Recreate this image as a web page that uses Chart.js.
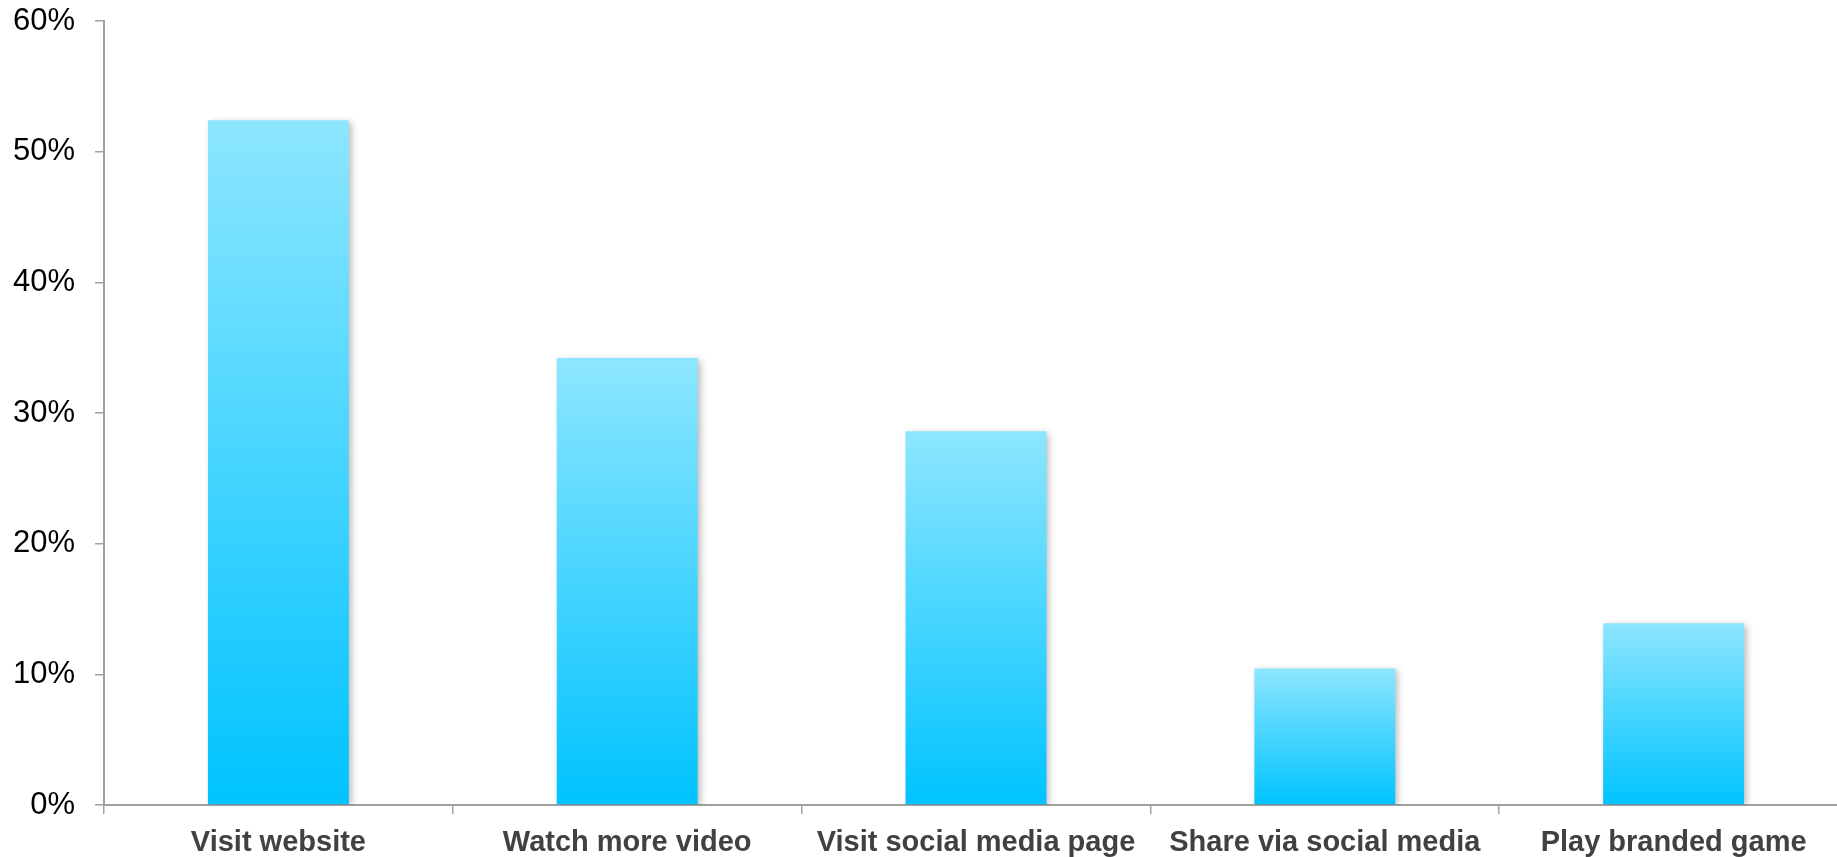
<!DOCTYPE html>
<html>
<head>
<meta charset="utf-8">
<script src="https://cdn.jsdelivr.net/npm/chart.js@4/dist/chart.umd.min.js"></script>
<style>
html,body{margin:0;padding:0;background:#fff;overflow:hidden;}
#wrap{position:absolute;left:0;top:0;width:1860px;height:857px;}
</style>
</head>
<body>
<div id="wrap"><canvas id="c" width="1860" height="857"></canvas></div>
<script>
const categories = ["Visit website", "Watch more video", "Visit social media page", "Share via social media", "Play branded game"];
const values = [52.4, 34.2, 28.6, 10.45, 13.9];
const yTicks = [0, 10, 20, 30, 40, 50, 60];

const shadowPlugin = {
  id: 'barShadow',
  beforeDatasetsDraw(chart) {
    const ctx = chart.ctx;
    ctx.save();
    ctx.shadowColor = 'rgba(0,0,0,0.28)';
    ctx.shadowBlur = 7;
    ctx.shadowOffsetX = 3;
    ctx.shadowOffsetY = 2;
  },
  afterDatasetsDraw(chart) {
    chart.ctx.restore();
  }
};

function barGradient(context) {
  const chart = context.chart;
  const area = chart.chartArea;
  if (!area || context.type !== 'data') return '#4fd3ff';
  const y = chart.scales.y;
  const top = y.getPixelForValue(context.parsed ? context.parsed.y : values[context.dataIndex]);
  const bottom = y.getPixelForValue(0);
  const g = chart.ctx.createLinearGradient(0, top, 0, bottom);
  g.addColorStop(0, '#8de6ff');
  g.addColorStop(1, '#00c3ff');
  return g;
}

new Chart(document.getElementById('c'), {
  type: 'bar',
  data: {
    labels: categories,
    datasets: [{
      data: values,
      backgroundColor: barGradient,
      borderWidth: 0,
      categoryPercentage: 1.0,
      barPercentage: 0.404
    }]
  },
  plugins: [shadowPlugin],
  options: {
    responsive: false,
    animation: false,
    events: [],
    layout: { padding: { top: 21, right: 12, left: 0, bottom: 0 } },
    plugins: { legend: { display: false }, tooltip: { enabled: false } },
    scales: {
      x: {
        grid: { display: true, drawOnChartArea: false, drawTicks: true, tickLength: 9, color: '#a0a0a0', lineWidth: 1.5, offset: true },
        border: { display: true, color: '#a0a0a0', width: 2 },
        ticks: { color: '#414141', font: { family: 'Liberation Sans, Arial, sans-serif', size: 29, weight: 'bold' }, padding: 12, maxRotation: 0, autoSkip: false },
        afterFit(scale) { scale.height = 52; scale.paddingLeft = 0; scale.paddingRight = 0; }
      },
      y: {
        min: 0, max: 60,
        afterBuildTicks(scale) { scale.ticks = yTicks.map(v => ({ value: v })); },
        grid: { display: true, drawOnChartArea: false, drawTicks: true, tickLength: 9, color: '#a0a0a0', lineWidth: 1.5 },
        border: { display: true, color: '#a0a0a0', width: 2 },
        ticks: { color: '#000', font: { family: 'Liberation Sans, Arial, sans-serif', size: 31 }, padding: 20, callback: v => v + '%' },
        afterFit(scale) { scale.width = 104; scale.paddingTop = 0; scale.paddingBottom = 0; }
      }
    }
  }
});
</script>
</body>
</html>
